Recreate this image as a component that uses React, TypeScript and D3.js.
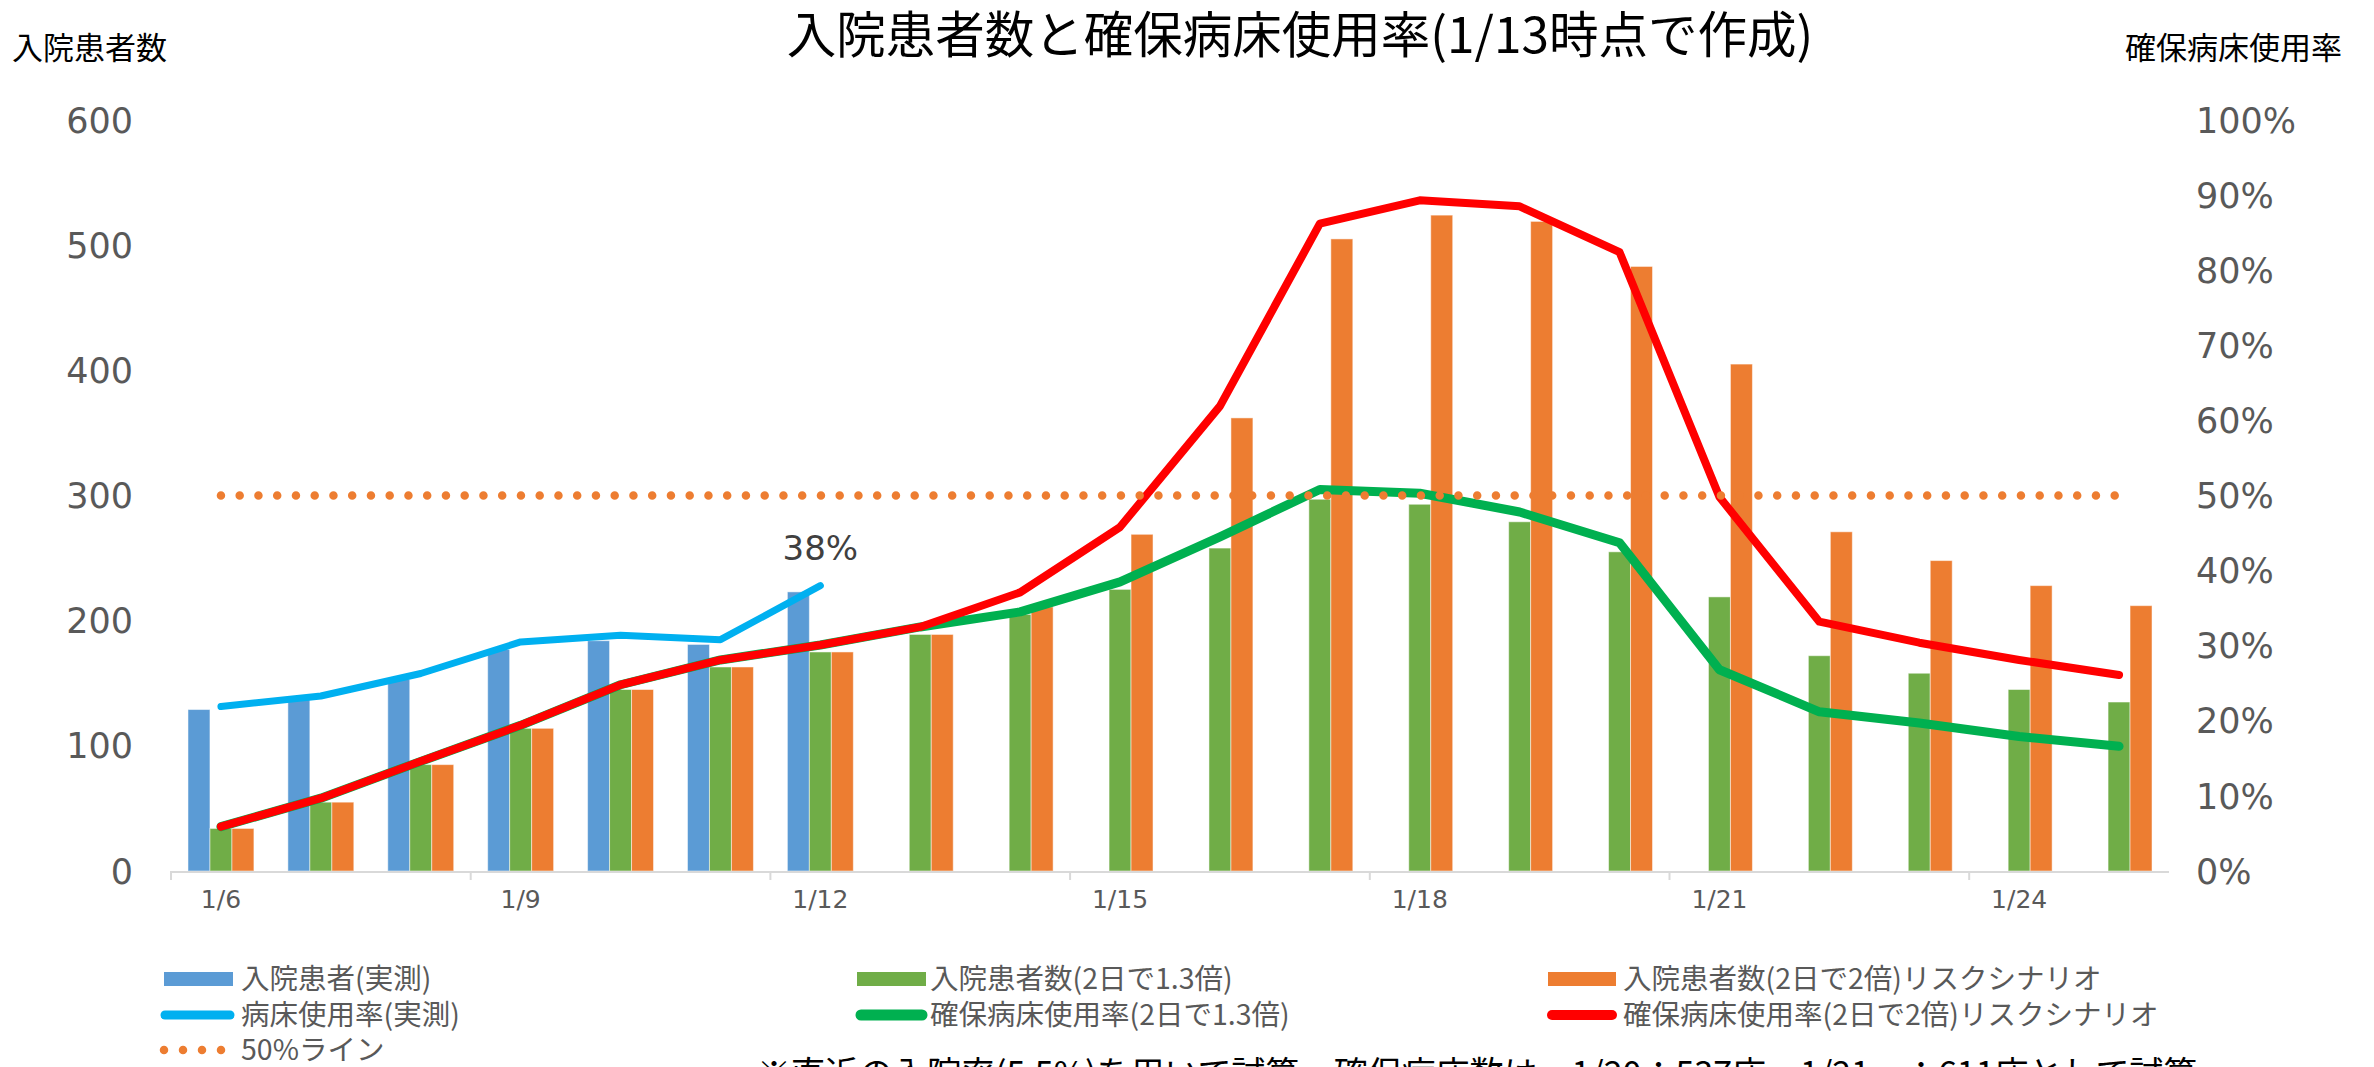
import React from "react";
import * as d3 from "d3";

// categories (dates)
const dates = [
	"1/6", "1/7", "1/8", "1/9", "1/10", "1/11", "1/12", "1/13", "1/14", "1/15",
	"1/16", "1/17", "1/18", "1/19", "1/20", "1/21", "1/22", "1/23", "1/24", "1/25",
];
const dateLabels = ["1/6", "1/9", "1/12", "1/15", "1/18", "1/21", "1/24"];

// bars (入院患者数)
const patientsActual = [129, 137, 153, 177, 184, 181, 223];
const patients13 = [34, 55, 85, 114, 145, 163, 175, 189, 205, 225, 258, 297, 293, 279, 255, 219, 172, 158, 145, 135];
const patients2x = [34, 55, 85, 114, 145, 163, 175, 189, 211, 269, 362, 505, 524, 519, 483, 405, 271, 248, 228, 212];

// lines (使用率 %)
const occActual = [21.9, 23.3, 26.3, 30.5, 31.4, 30.8, 38.0];
const occ13 = [5.9, 9.7, 14.6, 19.4, 24.8, 28.1, 30.1, 32.5, 34.5, 38.5, 44.5, 50.8, 50.3, 47.8, 43.7, 26.8, 21.2, 19.7, 17.9, 16.6];
const occ2x = [5.9, 9.7, 14.6, 19.4, 24.8, 28.1, 30.1, 32.5, 37.1, 45.8, 61.9, 86.2, 89.3, 88.5, 82.4, 49.8, 33.2, 30.4, 28.1, 26.1];
const fiftyLine = dates.map(() => 50);

const leftTicks = [0, 100, 200, 300, 400, 500, 600];
const rightTicks = [0, 10, 20, 30, 40, 50, 60, 70, 80, 90, 100];

const W = 2374;
const H = 1067;
const JP = "'Noto Sans CJK JP', 'Noto Sans', sans-serif";
const NUM = "'DejaVu Sans', sans-serif";
const GRAY = "#595959";

const App: React.FC = () => {
	const x = d3.scaleBand<string>().domain(dates).range([171, 2169]).paddingInner(0.34).paddingOuter(0.17);
	const sub = d3.scaleBand<string>().domain(["a", "g", "o"]).range([0, x.bandwidth()]);
	const y = d3.scaleLinear().domain([0, 600]).range([871, 120]);
	const yR = d3.scaleLinear().domain([0, 100]).range([871, 120]);
	const cx = (i: number) => (x(dates[i]) as number) + x.bandwidth() / 2;

	const line = d3
		.line<number>()
		.x((_, i) => cx(i))
		.y((d) => yR(d));

	const bars = (vals: number[], key: string, color: string) =>
		vals.map((v, i) => (
			<rect
				key={key + i}
				x={(x(dates[i]) as number) + (sub(key) as number)}
				y={y(v)}
				width={sub.bandwidth()}
				height={y(0) - y(v)}
				fill={color}
				stroke="#fff"
				strokeOpacity={0.5}
				strokeWidth={1}
			/>
		));

	const ticksAt = [0, 3, 6, 9, 12, 15, 18].map((k) => x.range()[0] + k * x.step());
	const last = occActual.length - 1;

	return (
		<svg
			width={W}
			height={H}
			style={{position: "absolute", left: 0, top: 0, display: "block", background: "#fff"}}
		>
			{/* title */}
			<text x={1300} y={53} textAnchor="middle" fontFamily={JP} fontSize={49.5} fill="#000">
				入院患者数と確保病床使用率(1/13時点で作成)
			</text>
			<text x={12} y={59} fontFamily={JP} fontSize={31} fill="#000">
				入院患者数
			</text>
			<text x={2342} y={59} textAnchor="end" fontFamily={JP} fontSize={31} fill="#000">
				確保病床使用率
			</text>

			{/* y axis labels */}
			{leftTicks.map((t) => (
				<text key={"l" + t} x={133} y={y(t)} dy="0.36em" textAnchor="end" fontFamily={NUM} fontSize={35} fill={GRAY}>
					{t}
				</text>
			))}
			{rightTicks.map((t) => (
				<text key={"r" + t} x={2196} y={yR(t)} dy="0.36em" fontFamily={NUM} fontSize={35} fill={GRAY}>
					{t + "%"}
				</text>
			))}

			{/* bars */}
			{bars(patientsActual, "a", "#5B9BD5")}
			{bars(patients13, "g", "#70AD47")}
			{bars(patients2x, "o", "#ED7D31")}

			{/* x axis */}
			<line x1={x.range()[0]} x2={x.range()[1]} y1={y(0) + 1} y2={y(0) + 1} stroke="#D9D9D9" strokeWidth={2} />
			{ticksAt.map((tx, i) => (
				<line key={"t" + i} x1={tx} x2={tx} y1={y(0)} y2={y(0) + 9} stroke="#D9D9D9" strokeWidth={2} />
			))}
			{dateLabels.map((d) => (
				<text key={d} x={cx(dates.indexOf(d))} y={908} textAnchor="middle" fontFamily={NUM} fontSize={25} fill={GRAY}>
					{d}
				</text>
			))}

			{/* lines */}
			<path d={line(occActual) || ""} fill="none" stroke="#00B0F0" strokeWidth={7} strokeLinecap="round" strokeLinejoin="round" />
			<path d={line(occ13) || ""} fill="none" stroke="#00B050" strokeWidth={9} strokeLinecap="round" strokeLinejoin="round" />
			<path d={line(occ2x) || ""} fill="none" stroke="#FF0000" strokeWidth={8} strokeLinecap="round" strokeLinejoin="round" />
			<path d={line(fiftyLine) || ""} fill="none" stroke="#ED7D31" strokeWidth={8.5} strokeLinecap="round" strokeDasharray="0 18.75" />

			{/* data label */}
			<text x={cx(last)} y={yR(occActual[last]) - 26} textAnchor="middle" fontFamily={NUM} fontSize={34} fill="#404040">
				{Math.round(occActual[last]) + "%"}
			</text>

			{/* legend */}
			<g fontFamily={JP} fontSize={28.5} fill={GRAY}>
				<rect x={164} y={972} width={69} height={14} fill="#5B9BD5" />
				<text x={241} y={979} dy="0.35em">入院患者(実測)</text>
				<rect x={857} y={972} width={69} height={14} fill="#70AD47" />
				<text x={930} y={979} dy="0.35em">入院患者数(2日で1.3倍)</text>
				<rect x={1548} y={972} width={68} height={14} fill="#ED7D31" />
				<text x={1623} y={979} dy="0.35em">入院患者数(2日で2倍)リスクシナリオ</text>

				<line x1={165} x2={230} y1={1015} y2={1015} stroke="#00B0F0" strokeWidth={9} strokeLinecap="round" />
				<text x={241} y={1015} dy="0.35em">病床使用率(実測)</text>
				<line x1={861} x2={922} y1={1015} y2={1015} stroke="#00B050" strokeWidth={11} strokeLinecap="round" />
				<text x={930} y={1015} dy="0.35em">確保病床使用率(2日で1.3倍)</text>
				<line x1={1552} x2={1612} y1={1015} y2={1015} stroke="#FF0000" strokeWidth={10} strokeLinecap="round" />
				<text x={1623} y={1015} dy="0.35em">確保病床使用率(2日で2倍)リスクシナリオ</text>

				<line x1={164} x2={225} y1={1050} y2={1050} stroke="#ED7D31" strokeWidth={8.5} strokeLinecap="round" strokeDasharray="0 19" />
				<text x={241} y={1050} dy="0.35em">50%ライン</text>
			</g>

			{/* note, cut at the bottom edge */}
			<text x={757} y={1086} fontFamily={JP} fontSize={34} fill="#000">
				※直近の入院率(5.5%)を用いて試算。確保病床数は、1/20：537床、1/21～：611床として試算
			</text>
		</svg>
	);
};

export default App;
